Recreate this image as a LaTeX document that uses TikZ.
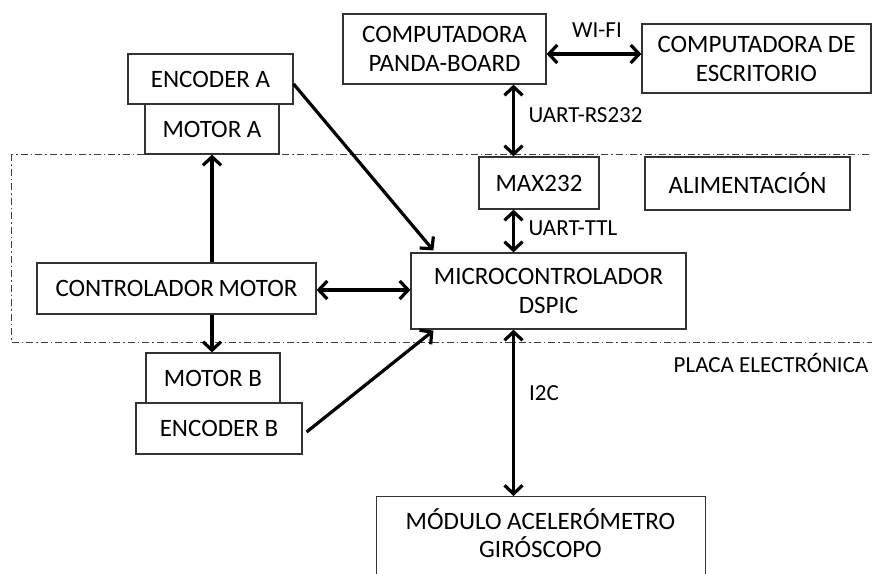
\documentclass[tikz,border=0pt]{standalone}
\usepackage{fontspec}
\setmainfont{Carlito}
\usetikzlibrary{arrows.meta}
\begin{document}
\begin{tikzpicture}[x=1pt,y=-1pt,
  box/.style={draw=black!80,line width=1.2pt,fill=white,inner sep=0pt,align=center,font=\fontsize{25}{29}\selectfont},
  lbl/.style={inner sep=0pt,font=\fontsize{23}{26}\selectfont},
  conn/.style={line width=3.2pt,black,arrows={-Straight Barb[length=8.5pt,width=18pt,line width=3.2pt]}},
  biconn/.style={line width=3.2pt,black,arrows={Straight Barb[length=8.5pt,width=18pt,line width=3.2pt]-Straight Barb[length=8.5pt,width=18pt,line width=3.2pt]}},
  plate/.style={draw=black!75,line width=1pt,dash pattern=on 7pt off 3pt on 1.5pt off 3pt}
]
\useasboundingbox (0,0) rectangle (872,573);
\begin{scope}
\clip (0,0) rectangle (872,573);
\draw[plate] (11,154) rectangle (890,342);
\node[box,minimum width=329pt,minimum height=120pt,anchor=north west] (modbox) at (376,496) {};
\node[inner sep=0pt,align=center,font=\fontsize{25}{28}\selectfont] (modulo) at (540.5,533) {MÓDULO ACELERÓMETRO\\GIRÓSCOPO};
\end{scope}
\node[box,minimum width=203pt,minimum height=70pt] (panda) at (444.5,49) {COMPUTADORA\\PANDA-BOARD};
\node[box,minimum width=229pt,minimum height=69pt] (escr) at (756.5,58.5) {COMPUTADORA DE\\ESCRITORIO};
\node[box,minimum width=165pt,minimum height=50pt] (encA) at (210.5,79) {ENCODER A};
\node[box,minimum width=134pt,minimum height=50pt] (motA) at (212,129) {MOTOR A};
\node[box,minimum width=120pt,minimum height=52pt] (max) at (539,183) {MAX232};
\node[box,minimum width=205pt,minimum height=53pt] (alim) at (747.5,183.5) {ALIMENTACIÓN};
\node[box,minimum width=275pt,minimum height=76pt] (micro) at (548.5,291) {MICROCONTROLADOR\\DSPIC};
\node[box,minimum width=279pt,minimum height=51pt] (ctrl) at (176.5,288.5) {CONTROLADOR\hspace{-1pt} MOTOR};
\node[box,minimum width=134pt,minimum height=50pt] (motB) at (213,378) {MOTOR B};
\node[box,minimum width=166pt,minimum height=51pt] (encB) at (219,428.5) {ENCODER B};

\coordinate (xa) at (513.5,0);
\coordinate (xm) at (212,0);
\draw[biconn] ([yshift=-5pt]panda.east) -- ([yshift=4.5pt]escr.west);
\draw[biconn] (panda.south -| xa) -- (max.north -| xa);
\draw[biconn] (max.south -| xa) -- (micro.north -| xa);
\draw[biconn] (micro.south -| xa) -- (modbox.north -| xa);
\draw[biconn] ([yshift=-1.5pt]ctrl.east) -- ([yshift=1pt]micro.west);
\draw[conn] (ctrl.north -| xm) -- (motA.south -| xm);
\draw[conn] (ctrl.south -| xm) -- (motB.north -| xm);
\draw[conn] ([yshift=-5pt]encA.east) -- ([xshift=23pt,yshift=2pt]micro.north west);
\draw[conn] ([xshift=4pt,yshift=-3.5pt]encB.east) -- ([xshift=23pt,yshift=-1pt]micro.south west);

\node[lbl] (wifi) at (597,30) {WI-FI};
\node[lbl] (rs) at (585.5,115) {UART-RS232};
\node[lbl] (ttl) at (573,228) {UART-TTL};
\node[lbl] (i2c) at (544,393) {I2C};
\node[lbl] (placa) at (771,363) {PLACA ELECTRÓNICA};
\end{tikzpicture}
\end{document}
